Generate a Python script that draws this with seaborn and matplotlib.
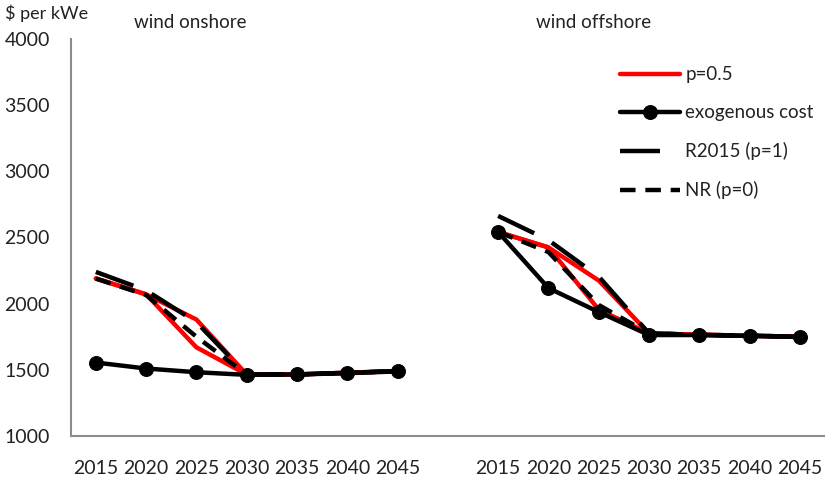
import numpy as np
import pandas as pd
import matplotlib
matplotlib.use("Agg")
import matplotlib.pyplot as plt
import seaborn as sns

# Valores ($ per kWe)
anos = [2015, 2020, 2025, 2030, 2035, 2040, 2045]

onshore_p05_alto = [2190, 2070, 1880, 1465, 1465, 1478, 1490]
onshore_p05_baixo = [2190, 2070, 1670, 1465, 1465, 1478, 1490]
onshore_exog = [1555, 1510, 1482, 1462, 1465, 1475, 1488]
onshore_r2015 = [2240, 2100, 1860, 1465, 1465, 1478, 1490]
onshore_nr = [2190, 2065, 1750, 1465, 1465, 1478, 1490]

offshore_p05_alto = [2542, 2425, 2175, 1775, 1765, 1758, 1750]
offshore_p05_baixo = [2542, 2425, 1955, 1775, 1765, 1758, 1750]
offshore_exog = [2542, 2118, 1937, 1763, 1763, 1756, 1748]
offshore_r2015 = [2663, 2480, 2205, 1775, 1765, 1758, 1750]
offshore_nr = [2542, 2390, 1990, 1775, 1765, 1758, 1750]

# posições das categorias (onshore 0-6, vazio 7, offshore 8-14)
pos_on = np.arange(len(anos))
pos_off = np.arange(len(anos)) + len(anos) + 1

sns.set_style("white")
plt.rcParams["font.family"] = ["Lato", "DejaVu Sans"]

fig = plt.figure(figsize=(8.25, 4.83), dpi=100)
ax = fig.add_axes([0.0857, 0.0973, 0.9143, 0.822])

estilo_r2015 = dict(color="black", linewidth=3.2, dashes=(9, 4.5), dash_capstyle="butt")
estilo_nr = dict(color="black", linewidth=3.2, dashes=(3.5, 2.2))

for pos, alto, baixo, exog, r2015, nr in [
    (pos_on, onshore_p05_alto, onshore_p05_baixo, onshore_exog, onshore_r2015, onshore_nr),
    (pos_off, offshore_p05_alto, offshore_p05_baixo, offshore_exog, offshore_r2015, offshore_nr),
]:
    primeiro = pos[0] == 0
    sns.lineplot(x=pos, y=alto, ax=ax, color="#ff0000", linewidth=3.2,
                 label="p=0.5" if primeiro else "_nolegend_", zorder=2)
    sns.lineplot(x=pos, y=baixo, ax=ax, color="#ff0000", linewidth=3.2,
                 label="_nolegend_", zorder=2)
    sns.lineplot(x=pos, y=r2015, ax=ax, label="R2015 (p=1)" if primeiro else "_nolegend_",
                 zorder=3, **estilo_r2015)
    sns.lineplot(x=pos, y=nr, ax=ax, label="NR (p=0)" if primeiro else "_nolegend_",
                 zorder=3, **estilo_nr)
    sns.lineplot(x=pos, y=exog, ax=ax, color="black", linewidth=3.2, marker="o",
                 markersize=10, markeredgecolor="black",
                 label="exogenous cost" if primeiro else "_nolegend_", zorder=4)

ax.set_ylim(1000, 4000)
ax.set_yticks(np.arange(1000, 4001, 500))
ax.set_xlim(-0.5, len(anos) * 2 + 0.5)
ax.set_xticks(list(pos_on) + list(pos_off))
ax.set_xticklabels([str(a) for a in anos] * 2)
ax.set_xticks(np.arange(-0.5, len(anos) * 2 + 0.6, 1), minor=True)
ax.tick_params(axis="x", which="major", length=0, pad=17, labelsize=14, labelcolor="#222222")
ax.tick_params(axis="x", which="minor", length=6, width=1.3, color="#8c8c8c", direction="out")
ax.tick_params(axis="y", length=6, width=1.3, color="#8c8c8c", direction="out", pad=9,
               labelsize=14, labelcolor="#222222")
ax.set_xlabel("")
ax.set_ylabel("")

sns.despine(ax=ax)
for lado in ["left", "bottom"]:
    ax.spines[lado].set_color("#8c8c8c")
    ax.spines[lado].set_linewidth(1.5)

handles, labels = ax.get_legend_handles_labels()
ordem = ["p=0.5", "exogenous cost", "R2015 (p=1)", "NR (p=0)"]
h = [handles[labels.index(o)] for o in ordem]
ax.legend(h, ordem, loc="upper right", bbox_to_anchor=(1.0, 0.96), frameon=False,
          fontsize=13.5, handlelength=3.2, labelspacing=1.12, handletextpad=0.3,
          labelcolor="#222222", borderaxespad=0.2)

fig.text(0.006, 0.99, "$ per kWe", fontsize=13, color="#222222", va="top")
fig.text(0.23, 0.972, "wind onshore", fontsize=13.5, color="#222222", va="top", ha="center")
fig.text(0.72, 0.972, "wind offshore", fontsize=13.5, color="#222222", va="top", ha="center")

fig.savefig("out.png", dpi=100)
